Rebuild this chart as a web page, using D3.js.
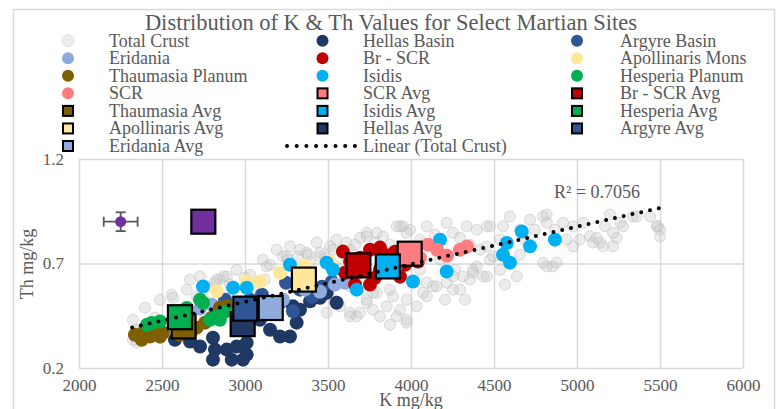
<!DOCTYPE html>
<html><head><meta charset="utf-8">
<script src="https://cdn.jsdelivr.net/npm/d3@7"></script>
<style>
html,body{margin:0;padding:0;background:#fff;}
svg text{font-family:"Liberation Serif","Times New Roman",serif;fill:#595959;}
</style></head>
<body><svg id="chart" width="779" height="409"></svg>
<script>
// ---------------- DATA ----------------
const kTicks = [2000, 2500, 3000, 3500, 4000, 4500, 5000, 5500, 6000];
const thTicks = [0.2, 0.7, 1.2];

const totalCrust = [
 [2325,0.335],[2348,0.321],[2398,0.489],[2558,0.551],[2566,0.536],[2649,0.575],[2709,0.543],[2729,0.638],
 [2777,0.590],[2819,0.608],[2830,0.623],[2849,0.623],[2890,0.638],[2950,0.670],[3108,0.718],[3191,0.766],
 [3229,0.734],[3259,0.718],[3271,0.782],[3319,0.734],[3380,0.742],[3432,0.800],[3452,0.734],[3512,0.782],
 [3530,0.766],[3552,0.814],[3613,0.800],[3633,0.766],[3693,0.823],[3733,0.847],[3733,0.830],[3831,0.830],
 [3914,0.878],[3952,0.878],[3994,0.862],[4095,0.878],[4215,0.895],[4253,0.847],[4335,0.878],[4396,0.862],
 [4456,0.878],[4476,0.878],[4554,0.878],[4596,0.925],[4657,0.862],[4717,0.910],[4795,0.925],[4817,0.934],
 [4817,0.895],[4916,0.895],[4938,0.814],[4976,0.878],[4976,0.782],[5018,0.814],[5036,0.895],[5078,0.830],
 [5119,0.823],[5139,0.800],[5157,0.782],[5169,0.878],[5199,0.934],[5217,0.847],[5217,0.782],[5239,0.823],
 [5259,0.895],[5277,0.878],[5337,0.925],[5360,0.925],[5440,0.925],[5480,0.878],[5488,0.878],[5500,0.862],
 [5500,0.830],[3530,0.527],[3492,0.465],[3572,0.495],[3633,0.465],[3673,0.447],[3552,0.686],[3633,0.591],
 [3733,0.527],[3771,0.479],[3854,0.495],[3892,0.543],[3974,0.527],[4034,0.495],[3813,0.447],[3793,0.560],
 [3914,0.447],[3974,0.417],[4095,0.608],[4095,0.543],[4155,0.591],[4215,0.608],[4295,0.575],[4355,0.623],
 [4434,0.638],[4396,0.686],[4313,0.638],[4253,0.575],[4133,0.591],[4072,0.560],[4175,0.718],[4416,0.766],
 [4476,0.718],[4373,0.670],[4795,0.704],[4855,0.686],[5096,0.800],[4456,0.782],[4494,0.734],[4536,0.670],
 [4637,0.638],[4817,0.686],[4877,0.704],[3030,0.646],[3151,0.694],[3331,0.766],[3392,0.708],[3482,0.728],
 [3602,0.737],[3663,0.790],[3783,0.800],[3873,0.790],[4054,0.814],[4145,0.838],[4295,0.823],[4355,0.790],
 [4536,0.814],[4687,0.814],[4747,0.862],[4867,0.862],[2488,0.527],[2458,0.441],[2367,0.383],[2669,0.623],
 [2759,0.527],[2910,0.599],[2999,0.632],[3060,0.584],[3120,0.623],[4054,0.670],[4205,0.527],[4265,0.670],
 [4566,0.599],[4657,0.742],[4325,0.527],[3934,0.479],[3873,0.407],
 [2325,0.431],[2348,0.383],[3131,0.686],[3251,0.734],[2870,0.638],[3974,0.431],[3873,0.575],[4253,0.638],
 [4373,0.656],[4456,0.638],[3693,0.465],[3733,0.512],[3633,0.447],[3771,0.560],[3793,0.847],[3934,0.878],
 [3974,0.847],[3452,0.752],[3371,0.752]
];
const hellasBasin = [
 [2578,0.335],[2669,0.327],[2729,0.303],[2807,0.345],[2819,0.288],[2807,0.240],[2890,0.288],[2920,0.240],
 [2950,0.303],[2988,0.240],[3010,0.321],[3010,0.264],[3151,0.383],[3211,0.351],[3271,0.351],[3311,0.417],
 [3331,0.479],[3289,0.495],[3392,0.519],[3452,0.536],[3552,0.512],[3492,0.560],[3090,0.431]
];
const argyreBasin = [
 [3102,0.551],[3211,0.512],[3289,0.471],[3331,0.575],[3404,0.541],[3464,0.589],[3524,0.613],[3247,0.608],
 [3030,0.527],[2880,0.527]
];
const eridania = [[2729,0.484],[2801,0.503],[3361,0.575],[3452,0.565],[3542,0.599],[3602,0.608],[3229,0.527]];
const brSCR = [
 [3590,0.757],[3633,0.709],[3693,0.728],[3753,0.766],[3813,0.776],[3843,0.742],[3904,0.756],[3753,0.599],
 [3693,0.661],[3813,0.670],[3934,0.637],[3964,0.694],[3994,0.766],[4042,0.709],[3602,0.656],[3663,0.599],
 [3783,0.632],[3873,0.709]
];
const apollinarisMons = [[2830,0.567],[3010,0.614],[3090,0.614],[3211,0.655],[3361,0.690],[3512,0.709]];
const thaumasiaPlanum = [
 [2337,0.359],[2378,0.335],[2428,0.351],[2488,0.350],[2506,0.369],[2608,0.359],[2709,0.393],[2759,0.417],
 [2799,0.441],[2849,0.489],[2890,0.495],[2398,0.383],[2458,0.383],[2680,0.380],[2940,0.470]
];
const isidis = [
 [2747,0.590],[2928,0.584],[3010,0.584],[3271,0.694],[3492,0.704],[3530,0.670],[3673,0.575],[4175,0.814],
 [4215,0.662],[4012,0.614],[4667,0.853],[4577,0.798],[4554,0.742],[4596,0.704],[4717,0.782],[4867,0.814],
 [3904,0.680]
];
const hesperiaPlanum = [
 [2438,0.415],[2488,0.423],[2410,0.407],[2649,0.487],[2729,0.527],[2747,0.512],[2819,0.447],[2849,0.431],
 [2880,0.470],[2789,0.431]
];
const scr = [[4102,0.790],[4157,0.766],[4217,0.737],[4295,0.766],[4337,0.781],[3998,0.742],[4054,0.728]];

// averages (order = drawing order)
const avgNames = ["SCR Avg","Br - SCR Avg","Thaumasia Avg","Isidis Avg","Hesperia Avg","Apollinaris Avg","Hellas Avg","Argyre Avg","Eridania Avg"];
const avgK  = [3992, 3683, 2630, 3860, 2608, 3355, 2986, 3002, 3155];
const avgTh = [0.747, 0.691, 0.399, 0.686, 0.443, 0.623, 0.410, 0.484, 0.487];

// purple reference markers
const refPoint = {k: 2251, th: 0.90, kErr: 102, thErr: 0.045};
const refSquare = {k: 2749, th: 0.90};

// linear trend of Total Crust
const trendSlope = 0.0001799, trendIntercept = -0.0233, trendKRange = [2320, 5500];
const rSquaredLabel = "R² = 0.7056";

const colors = {
 "Total Crust":"#f2f2f2","Hellas Basin":"#1f3864","Argyre Basin":"#2f5597","Eridania":"#8faadc",
 "Br - SCR":"#c00000","Apollinaris Mons":"#ffe699","Thaumasia Planum":"#7f6000","Isidis":"#00b0f0",
 "Hesperia Planum":"#00b050","SCR":"#ff7c80",
 "SCR Avg":"#ff7c80","Br - SCR Avg":"#c00000","Thaumasia Avg":"#7f6000","Isidis Avg":"#00b0f0",
 "Hesperia Avg":"#00b050","Apollinaris Avg":"#ffe699","Hellas Avg":"#1f3864","Argyre Avg":"#2f5597",
 "Eridania Avg":"#8faadc"
};
const legendRows = [
 ["Total Crust","Hellas Basin","Argyre Basin"],
 ["Eridania","Br - SCR","Apollinaris Mons"],
 ["Thaumasia Planum","Isidis","Hesperia Planum"],
 ["SCR","SCR Avg","Br - SCR Avg"],
 ["Thaumasia Avg","Isidis Avg","Hesperia Avg"],
 ["Apollinaris Avg","Hellas Avg","Argyre Avg"],
 ["Eridania Avg","Linear (Total Crust)"]
];

// ---------------- CHART ----------------
const svg = d3.select("#chart");
const plot = {left: 79, right: 743, top: 159, bottom: 368};
const x = d3.scaleLinear().domain([2000, 6000]).range([plot.left, plot.right]);
const y = d3.scaleLinear().domain([0.2, 1.2]).range([plot.bottom, plot.top]);

// outer chart border
svg.append("rect").attr("x", 13.5).attr("y", 9.5).attr("width", 761).attr("height", 420)
  .attr("fill", "#fff").attr("stroke", "#d9d9d9").attr("stroke-width", 1.5);

// gridlines
const gx = svg.append("g").attr("transform", `translate(0,${plot.bottom})`)
  .call(d3.axisBottom(x).tickValues(kTicks).tickSize(-(plot.bottom - plot.top)).tickFormat(""));
const gy = svg.append("g").attr("transform", `translate(${plot.left},0)`)
  .call(d3.axisLeft(y).tickValues(thTicks).tickSize(-(plot.right - plot.left)).tickFormat(""));
[gx, gy].forEach(g => {
  g.select(".domain").remove();
  g.selectAll(".tick line").attr("stroke", "#d9d9d9").attr("stroke-width", 1.5);
});

// tick labels
const lx = svg.append("g").attr("transform", `translate(0,${plot.bottom})`)
  .call(d3.axisBottom(x).tickValues(kTicks).tickSize(0).tickPadding(11).tickFormat(d3.format("d")));
const ly = svg.append("g").attr("transform", `translate(${plot.left},0)`)
  .call(d3.axisLeft(y).tickValues(thTicks).tickSize(0).tickPadding(15).tickFormat(d3.format(".1f")));
[lx, ly].forEach(g => {
  g.select(".domain").remove();
  g.selectAll("text").style("font-family", '"Liberation Serif",serif').style("font-size", "17px").attr("fill", "#595959");
});

// axis titles
svg.append("text").attr("x", 411).attr("y", 406).attr("text-anchor", "middle").style("font-size", "18px").text("K mg/kg");
svg.append("text").attr("transform", "translate(33,264) rotate(-90)").attr("text-anchor", "middle").style("font-size", "18px").text("Th mg/kg");

// title
svg.append("text").attr("x", 391).attr("y", 30).attr("text-anchor", "middle").style("font-size", "22.5px")
  .text("Distribution of K & Th Values for Select Martian Sites");

// total crust
svg.append("g").selectAll("circle").data(totalCrust).join("circle")
  .attr("cx", d => x(d[0])).attr("cy", d => y(d[1])).attr("r", 5.5)
  .attr("fill", "#c4c4c4").attr("fill-opacity", 0.33)
  .attr("stroke", "#bbbbbb").attr("stroke-opacity", 0.5).attr("stroke-width", 1);

// site series
const siteSeries = [
 ["Hellas Basin", hellasBasin], ["Argyre Basin", argyreBasin], ["Eridania", eridania], ["Br - SCR", brSCR],
 ["Apollinaris Mons", apollinarisMons], ["Thaumasia Planum", thaumasiaPlanum], ["Isidis", isidis],
 ["Hesperia Planum", hesperiaPlanum], ["SCR", scr]
];
siteSeries.forEach(([name, pts]) => {
  svg.append("g").selectAll("circle").data(pts).join("circle")
    .attr("cx", d => x(d[0])).attr("cy", d => y(d[1])).attr("r", 7)
    .attr("fill", colors[name]);
});

// averages
const sq = 24;
svg.append("g").selectAll("rect").data(avgNames).join("rect")
  .attr("x", (d, i) => x(avgK[i]) - sq / 2).attr("y", (d, i) => y(avgTh[i]) - sq / 2)
  .attr("width", sq).attr("height", sq)
  .attr("fill", d => colors[d]).attr("stroke", "#000").attr("stroke-width", 2.2);

// purple reference
svg.append("rect").attr("x", x(refSquare.k) - sq / 2).attr("y", y(refSquare.th) - sq / 2)
  .attr("width", sq).attr("height", sq).attr("fill", "#7030a0").attr("stroke", "#000").attr("stroke-width", 2.2);
const eb = svg.append("g").attr("stroke", "#595959").attr("stroke-width", 1.8);
eb.append("line").attr("x1", x(refPoint.k - refPoint.kErr)).attr("x2", x(refPoint.k + refPoint.kErr))
  .attr("y1", y(refPoint.th)).attr("y2", y(refPoint.th));
eb.append("line").attr("x1", x(refPoint.k)).attr("x2", x(refPoint.k))
  .attr("y1", y(refPoint.th - refPoint.thErr)).attr("y2", y(refPoint.th + refPoint.thErr));
[refPoint.k - refPoint.kErr, refPoint.k + refPoint.kErr].forEach(k =>
  eb.append("line").attr("x1", x(k)).attr("x2", x(k)).attr("y1", y(refPoint.th) - 5).attr("y2", y(refPoint.th) + 5));
[refPoint.th - refPoint.thErr, refPoint.th + refPoint.thErr].forEach(t =>
  eb.append("line").attr("x1", x(refPoint.k) - 5).attr("x2", x(refPoint.k) + 5).attr("y1", y(t)).attr("y2", y(t)));
svg.append("circle").attr("cx", x(refPoint.k)).attr("cy", y(refPoint.th)).attr("r", 5.5).attr("fill", "#7030a0");

// trendline
const trendPts = trendKRange.map(k => [k, trendIntercept + trendSlope * k]);
svg.append("path").attr("d", d3.line().x(d => x(d[0])).y(d => y(d[1]))(trendPts))
  .attr("fill", "none").attr("stroke", "#000").attr("stroke-width", 4)
  .attr("stroke-linecap", "round").attr("stroke-dasharray", "0,9");
svg.append("text").attr("x", 554).attr("y", 198).style("font-size", "18px").text(rSquaredLabel);

// legend
const colMarkX = [68, 322.5, 577], colTextX = [109, 363, 620];
const rowY0 = 40.7, rowDy = 17.55;
legendRows.forEach((row, r) => {
  row.forEach((name, c) => {
    const cy = rowY0 + r * rowDy;
    const g = svg.append("g");
    if (name.startsWith("Linear")) {
      g.append("line").attr("x1", 287).attr("x2", 355).attr("y1", cy).attr("y2", cy)
        .attr("stroke", "#000").attr("stroke-width", 4).attr("stroke-linecap", "round").attr("stroke-dasharray", "0,9.7");
    } else if (name.endsWith("Avg")) {
      g.append("rect").attr("x", colMarkX[c] - 5).attr("y", cy - 5).attr("width", 10).attr("height", 10)
        .attr("fill", colors[name]).attr("stroke", "#000").attr("stroke-width", 2);
    } else if (name === "Total Crust") {
      g.append("circle").attr("cx", colMarkX[c]).attr("cy", cy).attr("r", 6)
        .attr("fill", "#ececec").attr("stroke", "#e0e0e0").attr("stroke-width", 1);
    } else {
      g.append("circle").attr("cx", colMarkX[c]).attr("cy", cy).attr("r", 6).attr("fill", colors[name]);
    }
    g.append("text").attr("x", colTextX[c]).attr("y", cy + 6).style("font-size", "18px").text(name);
  });
});
</script></body></html>
